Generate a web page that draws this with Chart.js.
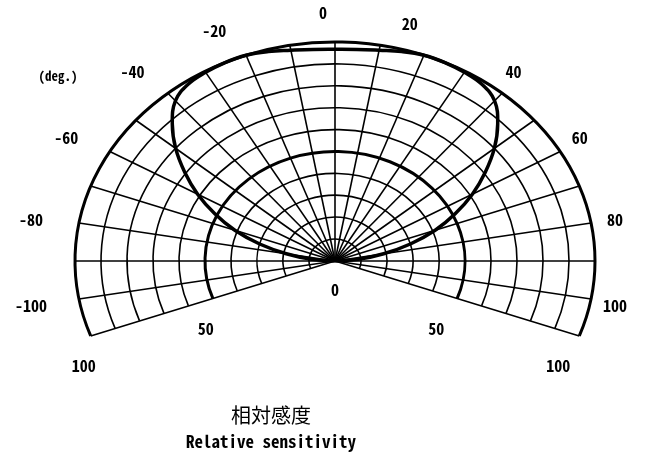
<!DOCTYPE html>
<html><head><meta charset="utf-8">
<script src="https://cdn.jsdelivr.net/npm/chart.js@4.4.1/dist/chart.umd.min.js"></script>
<style>html,body{margin:0;padding:0;background:#fff}canvas{display:block}</style>
</head><body>
<canvas id="c" width="653" height="454"></canvas>
<script>
// ---- data ----
const angles = [-90,-85,-80,-75,-70,-65,-60,-55,-50,-45,-40,-35,-30,-25,-20,-15,-10,-5,0,5,10,15,20,25,30,35,40,45,50,55,60,65,70,75,80,85,90];
const sensitivity = [0,9,19,30,41,51,61,70.5,80,88.5,95.5,98.5,99.5,100,100,99,97.7,97,96.7,97,97.7,99,100,100,99.5,98.5,95.5,88.5,80,70.5,61,51,41,30,19,9,0];
const ringValues = [10,20,30,40,50,60,70,80,90,100];
const boldRings = [50,100];
const spokeAngles = [-110,-100,-90,-80,-70,-60,-50,-40,-30,-20,-10,0,10,20,30,40,50,60,70,80,90,100,110];
const angleTickLabels = [-100,-80,-60,-40,-20,0,20,40,60,80,100];
const radialTickLabels = [0,50,100];
const unitLabel = '(deg.)';
const titleLines = ['相対感度','Relative sensitivity'];

const FONT = "'Noto Sans Mono CJK JP','Noto Sans CJK JP','DejaVu Sans Mono',sans-serif";
const rad = d => d*Math.PI/180;

const polarGrid = {
  id:'polarGrid',
  beforeDatasetsDraw(chart){
    const {ctx, scales:{x,y}} = chart;
    const cx = x.getPixelForValue(0), cy = y.getPixelForValue(0);
    const ux = x.getPixelForValue(1)-cx, uy = cy - y.getPixelForValue(1);
    const a0 = spokeAngles[0], a1 = spokeAngles[spokeAngles.length-1];
    ctx.save();
    ctx.strokeStyle = '#000';
    ctx.lineJoin = 'miter';
    ctx.lineWidth = 1.6;
    spokeAngles.forEach(a=>{
      ctx.beginPath();
      ctx.moveTo(cx,cy);
      ctx.lineTo(cx + 100*ux*Math.sin(rad(a)), cy - 100*uy*Math.cos(rad(a)));
      ctx.stroke();
    });
    ringValues.forEach(r=>{
      ctx.lineWidth = boldRings.includes(r) ? 3 : 1.6;
      ctx.beginPath();
      ctx.ellipse(cx, cy, r*ux, r*uy, 0, rad(a0-90), rad(a1-90));
      ctx.stroke();
    });
    ctx.restore();
  }
};

const polarLabels = {
  id:'polarLabels',
  afterDatasetsDraw(chart, args, o){
    const {ctx, scales:{x,y}} = chart;
    const cx = x.getPixelForValue(0), cy = y.getPixelForValue(0);
    const ux = x.getPixelForValue(1)-cx, uy = cy - y.getPixelForValue(1);
    ctx.save();
    ctx.fillStyle = '#000';
    ctx.textAlign = 'center';
    ctx.textBaseline = 'middle';
    ctx.font = `bold 16px ${FONT}`;
    angleTickLabels.forEach(a=>{
      const aa = a + (o.angleNudge[a]||0);
      const px = cx + o.labelShift + o.labelR*ux*Math.sin(rad(aa));
      const py = cy - o.labelR*uy*Math.cos(rad(aa)) + o.labelDy;
      ctx.fillText(String(a), px, py);
    });
    const aE = spokeAngles[spokeAngles.length-1];
    radialTickLabels.forEach(r=>{
      if(r===0){
        ctx.fillText('0', cx, cy + o.radialDy - 1);
        return;
      }
      [-1,1].forEach(s=>{
        const px = cx + s*r*ux*Math.sin(rad(aE)) + (s<0?o.radialDxL:o.radialDxR);
        const py = cy - r*uy*Math.cos(rad(aE)) + o.radialDy;
        ctx.fillText(String(r), px, py);
      });
    });
    ctx.font = `bold 13px ${FONT}`;
    ctx.fillText(unitLabel, x.getPixelForValue(o.unitAt[0]), y.getPixelForValue(o.unitAt[1]));
    ctx.font = `500 20px ${FONT}`;
    ctx.fillText(titleLines[0], x.getPixelForValue(o.titleX), y.getPixelForValue(o.titleY[0]));
    ctx.font = `bold 17px ${FONT}`;
    ctx.fillText(titleLines[1], x.getPixelForValue(o.titleX), y.getPixelForValue(o.titleY[1]));
    ctx.restore();
  }
};

// pixel layout: centre (335,261), 2.6 px/unit horizontally, 2.19 px/unit vertically
const CX = 335, CY = 261, KX = 2.6, KY = 2.19, W = 653, H = 454;

new Chart(document.getElementById('c'), {
  type:'scatter',
  data:{datasets:[{
    data: angles.map((a,i)=>({x: sensitivity[i]*Math.sin(rad(a)), y: sensitivity[i]*Math.cos(rad(a))})),
    showLine:true, borderColor:'#000', borderWidth:3.5, pointRadius:0, tension:0.4, fill:false
  }]},
  options:{
    responsive:false, animation:false, devicePixelRatio:1,
    layout:{padding:0},
    scales:{
      x:{type:'linear', display:false, min:-CX/KX, max:(W-CX)/KX},
      y:{type:'linear', display:false, min:-(H-CY)/KY, max:CY/KY}
    },
    plugins:{
      legend:{display:false}, tooltip:{enabled:false},
      polarLabels:{
        labelR:114, labelShift:-12, labelDy:2, angleNudge:{'20':-3,'-20':-1.5},
        radialDy:30, radialDxL:-7, radialDxR:-21,
        unitAt:[-106.5,84.5], titleX:-24.6, titleY:[-70.3,-82.6]
      }
    }
  },
  plugins:[polarGrid, polarLabels]
});
</script>
</body></html>
